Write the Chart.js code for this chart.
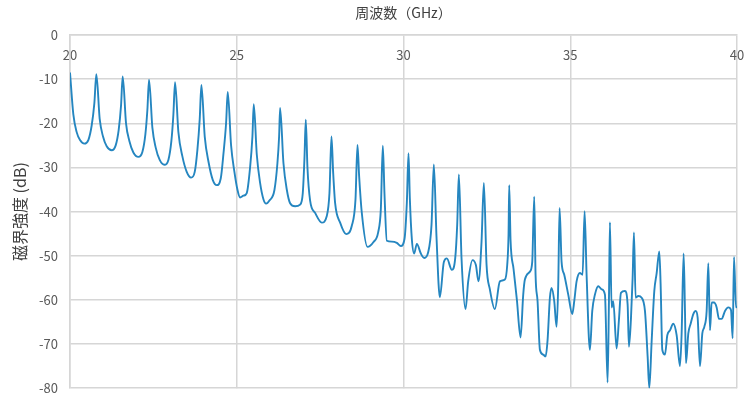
<!DOCTYPE html>
<html>
<head>
<meta charset="utf-8">
<script src="https://cdn.jsdelivr.net/npm/chart.js@4/dist/chart.umd.min.js"></script>
<style>
  html, body { margin: 0; padding: 0; background: #ffffff; }
  #wrap { width: 748px; height: 408px; }
</style>
</head>
<body>
<div id="wrap"><canvas id="c" width="748" height="408"></canvas></div>
<script>
// Spectrum sweep: frequency (GHz) and measured level (dB)
const freqGHz = [
  20.00, 20.10, 20.20, 20.30, 20.43, 20.55, 20.65, 20.73, 20.79,
  20.89, 20.99, 21.10, 21.25, 21.37, 21.46, 21.53, 21.58,
  21.68, 21.78, 21.90, 22.05, 22.17, 22.26, 22.32, 22.37,
  22.47, 22.57, 22.69, 22.83, 22.95, 23.04, 23.10, 23.15,
  23.25, 23.37, 23.50, 23.63, 23.74, 23.82, 23.89, 23.94,
  24.04, 24.16, 24.28, 24.40, 24.52, 24.60, 24.68, 24.73,
  24.83, 24.93, 25.02, 25.10, 25.20, 25.30, 25.40, 25.47, 25.51,
  25.60, 25.70, 25.80, 25.88, 25.98, 26.13, 26.22, 26.27, 26.30,
  26.40, 26.50, 26.60, 26.75, 26.90, 26.98, 27.03, 27.07,
  27.12, 27.20, 27.35, 27.55, 27.70, 27.78, 27.84,
  27.89, 27.95, 28.10, 28.28, 28.45, 28.56, 28.62,
  28.67, 28.75, 28.92, 29.10, 29.24, 29.32, 29.38,
  29.43, 29.50, 29.65, 29.80, 29.92, 30.03, 30.10, 30.15,
  30.19, 30.25, 30.32, 30.40, 30.52, 30.62, 30.74, 30.84, 30.91,
  30.99, 31.09, 31.21, 31.30, 31.45, 31.55, 31.61, 31.66,
  31.74, 31.86, 31.94, 32.07, 32.17, 32.25, 32.34, 32.41,
  32.49, 32.59, 32.74, 32.89, 33.04, 33.11, 33.15, 33.17,
  33.21, 33.30, 33.40, 33.51, 33.59, 33.64, 33.79, 33.86, 33.92,
  33.96, 34.02, 34.09, 34.19, 34.26, 34.32, 34.39, 34.44, 34.52, 34.59, 34.64, 34.68,
  34.74, 34.82, 34.94, 35.06, 35.12, 35.19, 35.29, 35.37, 35.43,
  35.49, 35.59, 35.66, 35.74, 35.84, 35.94, 36.04, 36.12, 36.16, 36.19,
  36.24, 36.29, 36.39, 36.46, 36.52, 36.64, 36.72, 36.76, 36.82, 36.87, 36.91,
  36.96, 37.04, 37.14, 37.24, 37.32, 37.37, 37.44, 37.52, 37.59, 37.67,
  37.71, 37.76, 37.84, 37.91, 37.99, 38.09, 38.19, 38.29, 38.34, 38.40,
  38.44, 38.47, 38.54, 38.61, 38.69, 38.76, 38.82, 38.89, 38.96, 39.02, 39.09, 39.14,
  39.19, 39.24, 39.31, 39.39, 39.46, 39.54, 39.64, 39.74, 39.82, 39.87, 39.91, 39.97, 40.00
];
const levelDb = [
  -8.5, -18.0, -22.0, -23.8, -24.6, -23.8, -20.5, -15.5, -8.9,
  -19.0, -23.0, -25.2, -26.1, -25.0, -21.5, -16.0, -9.4,
  -20.0, -24.0, -26.6, -27.6, -26.5, -22.5, -17.0, -10.1,
  -21.0, -25.5, -28.3, -29.4, -28.3, -24.0, -18.0, -10.7,
  -22.0, -27.5, -31.0, -32.3, -31.0, -26.0, -19.0, -11.3,
  -23.0, -29.0, -32.8, -34.0, -32.5, -27.0, -20.0, -12.9,
  -25.0, -31.0, -35.0, -36.8, -36.4, -35.8, -30.0, -23.0, -15.7,
  -27.0, -33.5, -37.2, -38.2, -37.5, -35.1, -29.0, -23.0, -16.5,
  -29.0, -35.0, -38.1, -38.8, -38.4, -35.8, -28.0, -19.2,
  -30.0, -37.5, -40.3, -42.5, -41.0, -35.8, -23.0,
  -31.0, -38.1, -42.5, -45.1, -43.2, -37.3, -24.9,
  -32.0, -40.3, -48.0, -46.9, -44.7, -39.5, -25.1,
  -36.0, -46.6, -46.8, -47.1, -47.8, -46.2, -38.0, -26.8,
  -37.0, -46.2, -49.5, -47.3, -49.5, -50.5, -49.2, -43.0, -29.3,
  -45.8, -59.4, -51.4, -50.6, -53.2, -50.6, -43.0, -31.6,
  -50.6, -62.1, -55.8, -51.0, -52.1, -55.8, -46.8, -33.5,
  -52.0, -57.6, -62.1, -55.8, -55.4, -52.1, -45.0, -34.0,
  -46.5, -53.0, -60.0, -68.5, -58.8, -55.4, -53.6, -51.4, -36.6,
  -54.3, -60.3, -71.3, -72.4, -72.8, -69.1, -59.5, -57.3, -60.3, -66.1, -56.5, -39.2,
  -51.4, -54.3, -58.8, -63.2, -60.3, -55.8, -53.9, -54.3, -39.9,
  -54.3, -71.3, -62.5, -58.8, -56.9, -57.6, -58.8, -78.7, -60.3, -42.4,
  -61.7, -60.3, -71.0, -64.5, -58.4, -58.0, -61.0, -70.6, -64.3, -55.1, -44.7,
  -59.5, -59.1, -59.5, -62.5, -72.8, -80.0, -69.5, -58.0, -54.0, -49.0,
  -56.5, -71.3, -72.4, -68.0, -66.9, -65.4, -68.0, -75.0, -67.6, -49.5,
  -62.5, -74.3, -67.6, -65.4, -63.2, -62.5, -64.0, -75.0, -67.6, -66.1, -62.5, -51.7,
  -66.9, -60.6, -60.6, -61.7, -64.3, -64.3, -62.5, -61.7, -62.3, -68.7, -50.3, -61.7, -61.3
];

// Axis ranges and tick steps
const freqRange = [20, 40];
const freqStep = 5;
const levelRange = [-80, 0];
const levelStep = 10;

const xTitle = '周波数（GHz）';
const yTitle = '磁界強度 (dB)';

const points = freqGHz.map((f, i) => ({ x: f, y: levelDb[i] }));

const gridColor = '#d6d6d6';
const tickColor = '#595959';
const titleColor = '#404040';
const uiFont = '"Noto Sans CJK JP", "Noto Sans", sans-serif';

new Chart(document.getElementById('c'), {
  type: 'line',
  data: {
    datasets: [{
      data: points,
      borderColor: '#2586c0',
      borderWidth: 1.9,
      pointRadius: 0,
      fill: false,
      cubicInterpolationMode: 'monotone'
    }]
  },
  options: {
    responsive: false,
    animation: false,
    layout: { padding: { left: 0, right: 11, top: 0, bottom: 12 } },
    plugins: { legend: { display: false }, tooltip: { enabled: false } },
    scales: {
      x: {
        type: 'linear',
        position: 'top',
        min: freqRange[0],
        max: freqRange[1],
        ticks: {
          stepSize: freqStep,
          color: tickColor,
          font: { family: uiFont, size: 13 },
          // frequency labels sit just inside the plot, under the top edge
          mirror: true,
          padding: 12,
          maxRotation: 0,
          autoSkip: false
        },
        grid: { color: gridColor, lineWidth: 1.5, drawTicks: false },
        border: { color: gridColor, width: 1.5 },
        title: {
          display: true,
          text: xTitle,
          color: titleColor,
          font: { family: uiFont, size: 14 },
          padding: { top: 4, bottom: 0 }
        },
        afterFit: (s) => {
          s.height = 35;
          s.paddingLeft = 0;
          s.paddingRight = 0;
        }
      },
      y: {
        min: levelRange[0],
        max: levelRange[1],
        ticks: {
          stepSize: levelStep,
          color: tickColor,
          font: { family: uiFont, size: 13 },
          padding: 12
        },
        grid: { color: gridColor, lineWidth: 1.5, drawTicks: false },
        border: { color: gridColor, width: 1.5 },
        title: {
          display: true,
          text: yTitle,
          color: titleColor,
          font: { family: uiFont, size: 16 },
          padding: { top: 10, bottom: 0 }
        },
        afterFit: (s) => { s.width = 70; }
      }
    }
  }
});
</script>
</body>
</html>
